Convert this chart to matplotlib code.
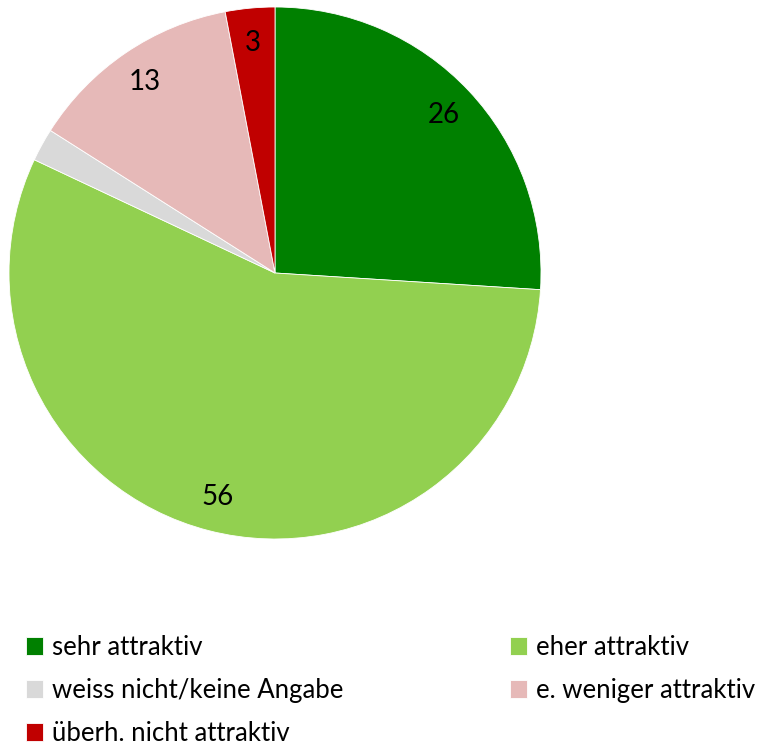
import numpy as np
import matplotlib.pyplot as plt

plt.rcParams['font.family'] = ['Lato', 'DejaVu Sans']

# survey shares in percent, clockwise from 12 o'clock
categories = ['sehr attraktiv', 'eher attraktiv', 'weiss nicht/keine Angabe',
              'e. weniger attraktiv', 'überh. nicht attraktiv']
values = [26, 56, 2, 13, 3]
colors = ['#008000', '#92D050', '#D9D9D9', '#E6B9B8', '#C00000']
shown = [True, True, False, True, True]  # the 2 is not labelled

W, H = 761, 742
fig = plt.figure(figsize=(W / 100, H / 100), dpi=100)

cx, cy, r = 275, 273, 266
ax = fig.add_axes([(cx - r) / W, (H - cy - r) / H, 2 * r / W, 2 * r / H])

wedges, _ = ax.pie(values, colors=colors, startangle=90, counterclock=False,
                   wedgeprops=dict(edgecolor='white', linewidth=0.6))
ax.set_xlim(-1, 1)
ax.set_ylim(-1, 1)
ax.set_aspect('equal')

# value labels at ~0.87 of the radius
for w, v, s in zip(wedges, values, shown):
    if not s:
        continue
    ang = np.deg2rad((w.theta1 + w.theta2) / 2)
    ax.text(0.87 * np.cos(ang), 0.87 * np.sin(ang), str(v),
            ha='center', va='center', fontsize=20, color='black')

order = [0, 2, 4, 1, 3]
leg = fig.legend([wedges[i] for i in order], [categories[i] for i in order],
                 ncol=2, loc='upper left', bbox_to_anchor=(26 / W, 1 - 635 / H),
                 frameon=False, fontsize=18.5, handlelength=0.65, handleheight=0.65,
                 handletextpad=0.35, columnspacing=6.5, labelspacing=0.7,
                 borderpad=0, borderaxespad=0)

fig.savefig('out.png', dpi=100)
